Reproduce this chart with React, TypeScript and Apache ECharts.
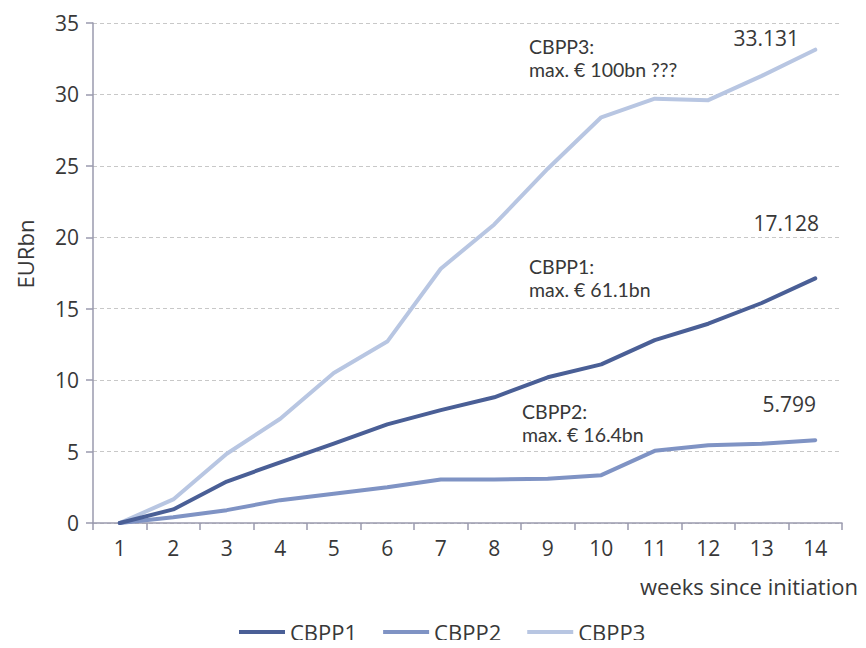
import React, { useEffect, useRef } from "react";
import * as echarts from "echarts";

const weeks = ["1", "2", "3", "4", "5", "6", "7", "8", "9", "10", "11", "12", "13", "14"];
const cbpp1 = [0, 0.95, 2.9, 4.25, 5.55, 6.9, 7.9, 8.8, 10.2, 11.1, 12.8, 13.95, 15.4, 17.128];
const cbpp2 = [0, 0.4, 0.9, 1.6, 2.05, 2.5, 3.05, 3.05, 3.1, 3.35, 5.05, 5.45, 5.55, 5.799];
const cbpp3 = [0, 1.65, 4.85, 7.3, 10.5, 12.7, 17.8, 20.9, 24.8, 28.4, 29.7, 29.6, 31.3, 33.131];
const seriesNames = ["CBPP1", "CBPP2", "CBPP3"];
const colors = ["#4a5f96", "#7f93c4", "#b8c6e2"];
const yTicks = { min: 0, max: 35, interval: 5 };

const FONT = "'Open Sans', 'Noto Sans', sans-serif";
const ANN_FONT = "Lato, 'Open Sans', sans-serif";
const TXT = "#383838";

export default function App() {
  const ref = useRef<HTMLDivElement>(null);
  useEffect(() => {
    if (!ref.current) return;
    const chart = echarts.init(ref.current, null, { renderer: "svg" });
    const data = [cbpp1, cbpp2, cbpp3];
    const annText = (x: number, y: number, text: string) => ({
      type: "text",
      x,
      y,
      style: {
        text,
        fill: TXT,
        font: `19.5px ${ANN_FONT}`,
        lineHeight: 21,
        textAlign: "left",
        textVerticalAlign: "middle",
      },
    });
    const valText = (x: number, y: number, text: string) => ({
      type: "text",
      x,
      y,
      style: { text, fill: TXT, font: `21px ${FONT}`, textAlign: "right", textVerticalAlign: "middle" },
    });
    chart.setOption({
      animation: false,
      textStyle: { fontFamily: FONT },
      grid: { left: 93, right: 24, top: 23, bottom: 125, containLabel: false },
      legend: {
        bottom: 0,
        left: 234,
        icon: "rect",
        itemWidth: 46,
        itemHeight: 4,
        itemGap: 26,
        textStyle: { fontSize: 22, color: TXT, fontFamily: FONT },
        data: seriesNames,
      },
      xAxis: {
        type: "category",
        data: weeks,
        boundaryGap: true,
        axisLine: { lineStyle: { color: "#9a9aae", width: 1.5 } },
        axisTick: { show: true, length: 7, lineStyle: { color: "#9a9aae", width: 1.5 } },
        axisLabel: { fontSize: 21, color: TXT, margin: 14, fontFamily: FONT },
        splitLine: { show: false },
      },
      yAxis: {
        type: "value",
        min: yTicks.min,
        max: yTicks.max,
        interval: yTicks.interval,
        axisLine: { show: true, lineStyle: { color: "#9a9aae", width: 1.5 } },
        axisTick: { show: true, length: 7, lineStyle: { color: "#9a9aae", width: 1.5 } },
        axisLabel: { fontSize: 21, color: TXT, margin: 14, fontFamily: FONT },
        splitLine: { show: true, lineStyle: { color: "#c8c8c8", type: [4, 3], width: 1 } },
      },
      series: seriesNames.map((name, i) => ({
        name,
        type: "line",
        data: data[i],
        symbol: "none",
        z: 3 - i,
        lineStyle: { color: colors[i], width: 4, cap: "round", join: "round" },
        itemStyle: { color: colors[i] },
      })),
      graphic: [
        {
          type: "text",
          x: 25,
          y: 254,
          rotation: Math.PI / 2,
          style: { text: "EURbn", fill: TXT, font: `22px ${FONT}`, textAlign: "center", textVerticalAlign: "middle" },
        },
        annText(529, 46, "CBPP3:"),
        annText(529, 69, "max. € 100bn ???"),
        valText(799, 38, "33.131"),
        valText(819, 223, "17.128"),
        annText(529, 266, "CBPP1:"),
        annText(529, 289, "max. € 61.1bn"),
        valText(816, 404, "5.799"),
        annText(522, 411, "CBPP2:"),
        annText(522, 434, "max. € 16.4bn"),
        {
          type: "text",
          x: 858,
          y: 586,
          style: { text: "weeks since initiation", fill: TXT, font: `22px ${FONT}`, textAlign: "right", textVerticalAlign: "middle" },
        },
      ],
    });
    return () => chart.dispose();
  }, []);
  return <div ref={ref} style={{ width: 866, height: 648, margin: -8 }} />;
}
